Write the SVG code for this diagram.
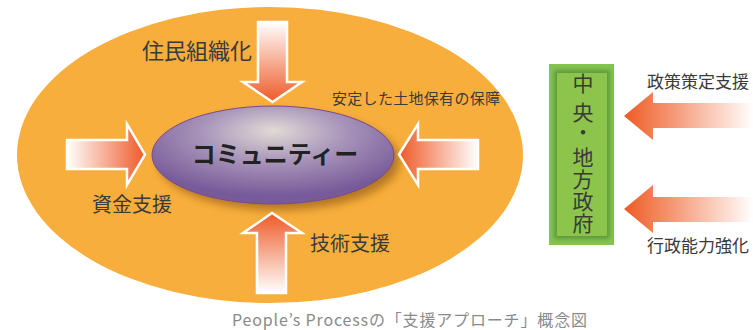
<svg xmlns="http://www.w3.org/2000/svg" width="753" height="330" viewBox="0 0 753 330">
<style>
.jp{font-family:"Noto Sans CJK JP","Noto Sans CJK SC",sans-serif;fill:#3a3a3a}
.lbl{font-size:20px}
.arr{stroke:#ffffff;stroke-width:2.5;stroke-linejoin:miter}
</style>
<defs>
<linearGradient id="gDown" x1="0" y1="0" x2="0" y2="1"><stop offset="0" stop-color="#ffffff"/><stop offset="1" stop-color="#ee5a28"/></linearGradient>
<linearGradient id="gUp" x1="0" y1="1" x2="0" y2="0"><stop offset="0" stop-color="#ffffff"/><stop offset="1" stop-color="#ee5a28"/></linearGradient>
<linearGradient id="gRight" x1="0" y1="0" x2="1" y2="0"><stop offset="0" stop-color="#ffffff"/><stop offset="1" stop-color="#ee5a28"/></linearGradient>
<linearGradient id="gLeft" x1="1" y1="0" x2="0" y2="0"><stop offset="0" stop-color="#ffffff"/><stop offset="1" stop-color="#ee5a28"/></linearGradient>
<linearGradient id="gGov" x1="0" y1="0" x2="1" y2="0"><stop offset="0" stop-color="#ee5a24"/><stop offset="1" stop-color="#ffffff"/></linearGradient>
<radialGradient id="gCom" cx="0.5" cy="0.3" r="0.62" fx="0.5" fy="0.25"><stop offset="0" stop-color="#e2dad6"/><stop offset="0.45" stop-color="#ab98bb"/><stop offset="1" stop-color="#775a9a"/></radialGradient>
<filter id="blur" x="-20%" y="-30%" width="140%" height="160%"><feGaussianBlur stdDeviation="4"/></filter>
<filter id="blur2" x="-20%" y="-20%" width="140%" height="140%"><feGaussianBlur stdDeviation="2"/></filter>
</defs>

<g id="community-field">
<ellipse cx="270" cy="155" rx="253" ry="148" fill="#f8ae3c"/>
</g>

<g id="community">
<ellipse cx="279" cy="161" rx="121" ry="49" fill="#7a4a10" opacity="0.55" filter="url(#blur)"/>
<ellipse cx="273" cy="155" rx="121" ry="49" fill="url(#gCom)" stroke="#7a4a8e" stroke-width="1"/>
<text x="275" y="163" text-anchor="middle" font-family="'Noto Sans CJK JP','Noto Sans CJK SC',sans-serif" font-weight="bold" font-size="24" fill="#222222">コミュニティー</text>
</g>

<g id="connectors">
<polygon class="arr" fill="url(#gDown)" points="258,22 287,22 287,82 302,82 272.5,102 243,82 258,82"/>
<polygon class="arr" fill="url(#gUp)" points="272,213 302,233 286,233 286,293 257,293 257,233 243,233"/>
<polygon class="arr" fill="url(#gRight)" points="67,140 127,140 127,124 145,154.5 127,185 127,169 67,169"/>
<polygon class="arr" fill="url(#gLeft)" points="399,154.5 418,124 418,140 478,140 478,169 418,169 418,185"/>
<polygon fill="url(#gGov)" points="624,116 653,92 653,103 753,103 753,128 653,128 653,140"/>
<polygon fill="url(#gGov)" points="624,209 653,185 653,197 753,197 753,222 653,222 653,233"/>
</g>

<g id="label-organize"><text class="jp" x="142" y="59" font-size="22">住民組織化</text></g>
<g id="label-land"><text class="jp" x="332" y="104" font-size="15" fill="#4a4436" letter-spacing="0.3">安定した土地保有の保障</text></g>
<g id="label-fund"><text class="jp lbl" x="92" y="212">資金支援</text></g>
<g id="label-tech"><text class="jp lbl" x="310" y="251">技術支援</text></g>

<g id="government">
<rect x="549" y="64" width="65" height="181" fill="#84c450"/>
<rect x="554" y="70" width="56" height="169" fill="#5e9a3a" filter="url(#blur2)"/>
<rect x="557" y="73" width="50" height="163" fill="#8cc44c"/>
<g class="jp" font-size="21" text-anchor="middle" fill="#333333">
<text x="583" y="91">中</text>
<text x="583" y="120">央</text>
<text x="583" y="140">・</text>
<text x="583" y="165">地</text>
<text x="583" y="187">方</text>
<text x="583" y="209">政</text>
<text x="583" y="231">府</text>
</g>
</g>

<g id="label-policy"><text class="jp" x="647" y="88" font-size="17">政策策定支援</text></g>
<g id="label-capacity"><text class="jp" x="647" y="252" font-size="17">行政能力強化</text></g>

<g id="caption"><text x="232" y="326" font-family="'Noto Sans CJK JP','Noto Sans',sans-serif" font-size="16" fill="#8a8a8a" textLength="355">People’s Processの「支援アプローチ」概念図</text></g>
</svg>
